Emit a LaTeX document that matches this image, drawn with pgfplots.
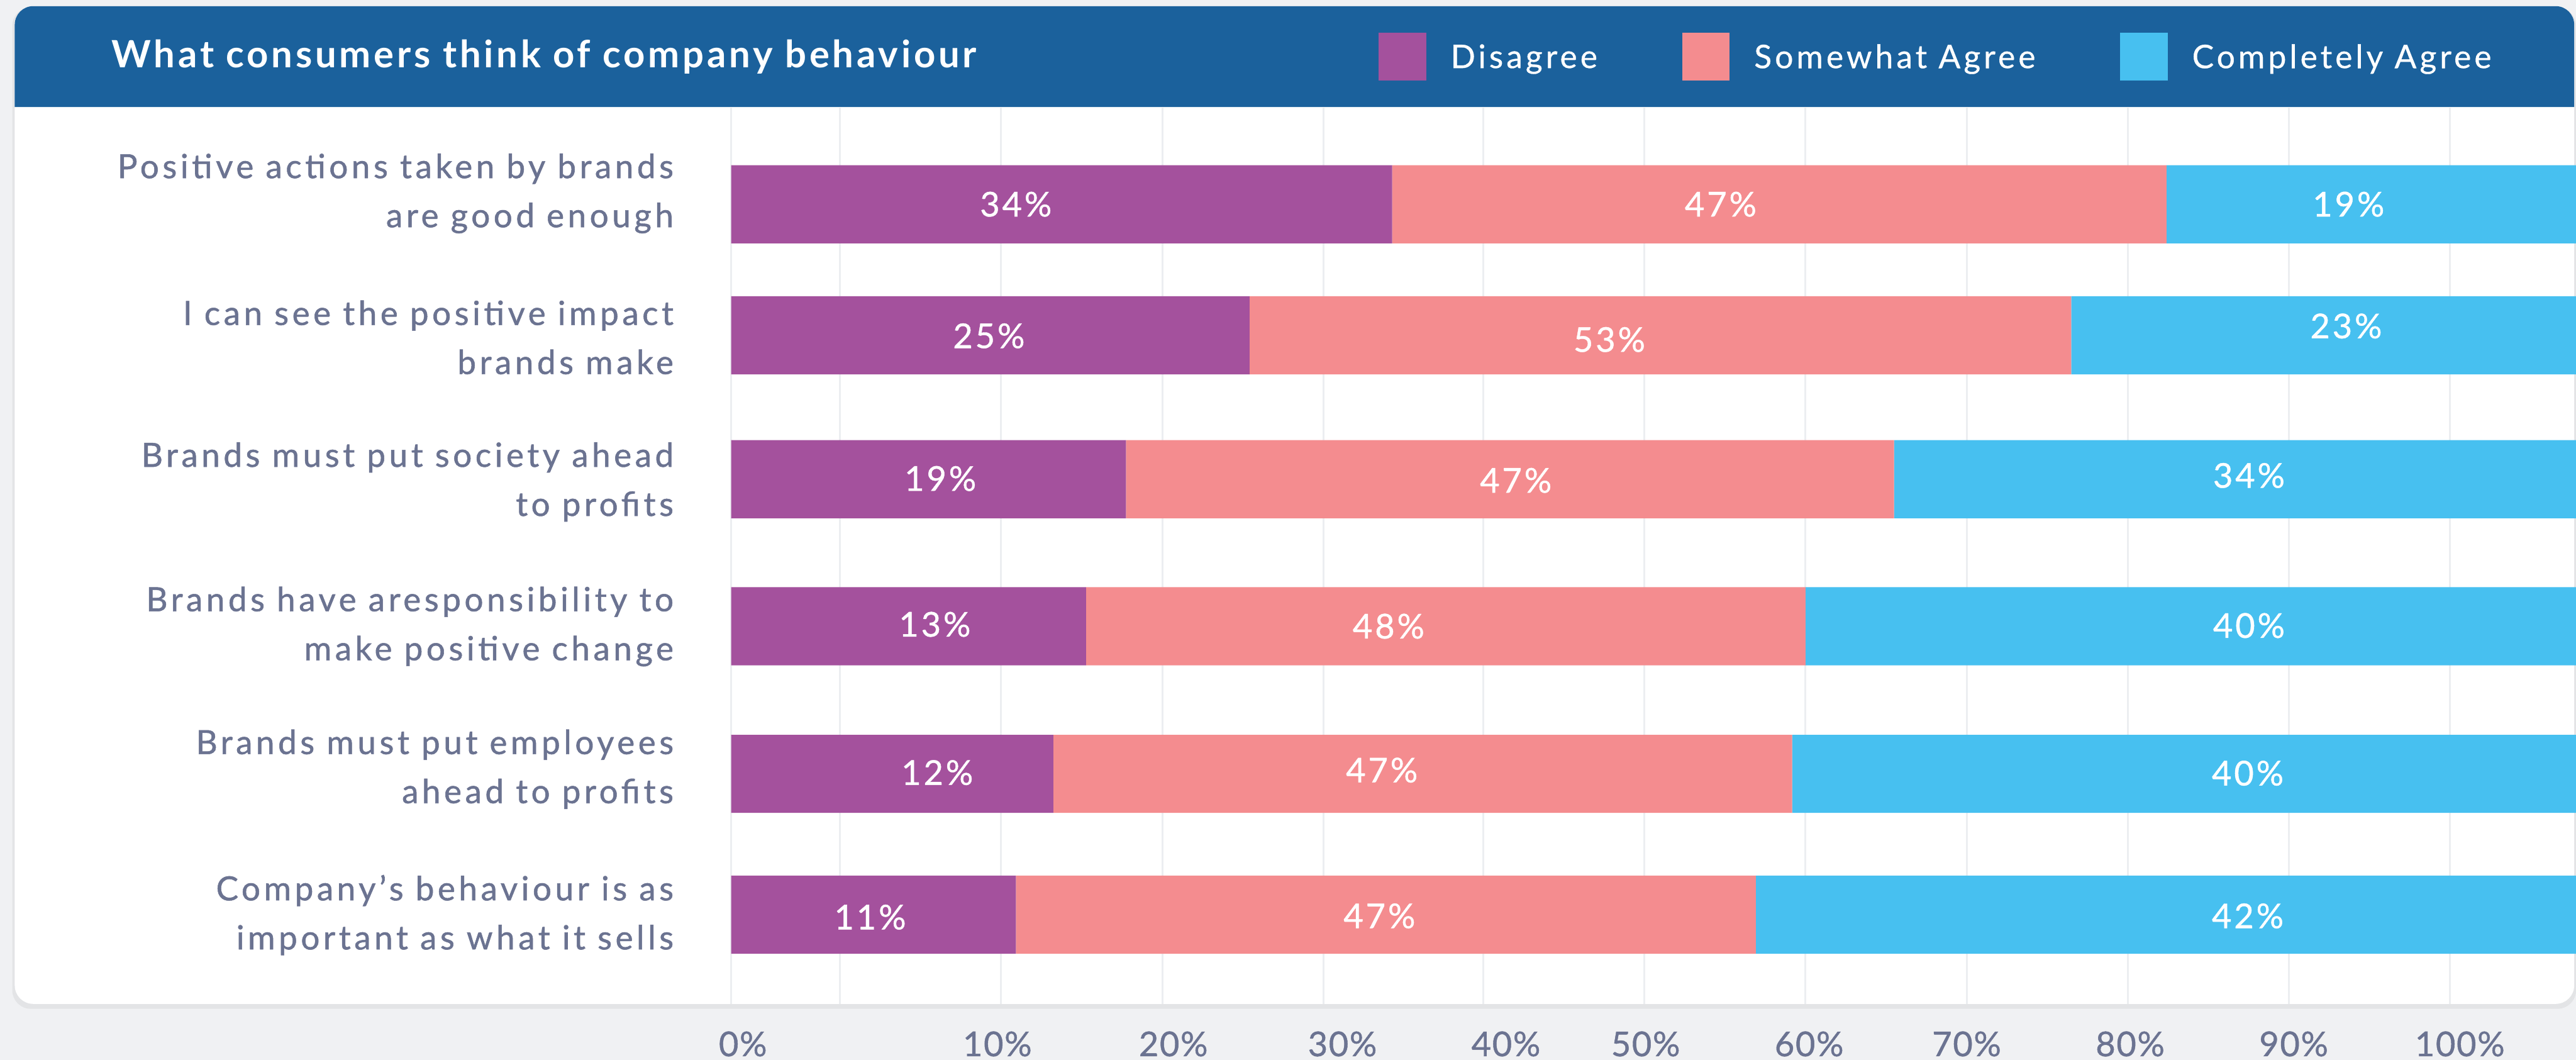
\documentclass[border=0pt]{standalone}
\usepackage{fontspec}
\setmainfont{Lato}
\newfontfamily\titlefont[LetterSpace=8]{Lato}
\newfontfamily\rowfont[LetterSpace=10.5,FakeBold=1]{Lato}
\newfontfamily\legfont[LetterSpace=9.8,FakeBold=0.6]{Lato}
\newfontfamily\tickfont[LetterSpace=3,FakeBold=0.8]{Lato}
\newfontfamily\barfont[LetterSpace=7,FakeBold=0.8]{Lato}
\usepackage{pgfplots}
\usepackage{pgfplotstable}
\pgfplotsset{compat=1.18}
\definecolor{dis}{RGB}{164,81,157}
\definecolor{som}{RGB}{244,140,143}
\definecolor{com}{RGB}{71,192,240}
\definecolor{hdr}{RGB}{27,97,156}
\definecolor{lbl}{RGB}{107,115,145}
\definecolor{grd}{RGB}{236,238,241}
\definecolor{bgc}{RGB}{240,241,243}

% bar segments (visual lengths, axis units: 0 = bar start, 100 = "100%" tick)
\pgfplotstableread{
y     dis    som    com
332   38.24  44.79  25
545   29.99  47.53  30
779   22.84  44.43  40
1018  20.53  41.62  46
1258  18.64  42.73  46
1487  16.47  42.80  48
}\bars

\begin{document}
\begin{tikzpicture}[x=1cm,y=1cm]
\path[use as bounding box] (0,0) rectangle (41.89,-17.23);
\fill[bgc] (0,0) rectangle (41.89,-17.23);
\fill[black,opacity=0.05,rounded corners=0.3cm] (0.20,-0.12) rectangle (41.89,-16.40);
\fill[white,rounded corners=0.3cm] (0.24,-0.10) rectangle (41.86,-16.32);
\fill[hdr] (0.24,-1.74) {[rounded corners=0.3cm] -- (0.24,-0.10) -- (41.86,-0.10)} -- (41.86,-1.74) -- cycle;
\node[anchor=base west,inner sep=0pt,text=white,font=\titlefont\fontsize{17.4}{20}\selectfont\bfseries] at (1.81,-1.10) {What consumers think of company behaviour};

\begin{axis}[
  at={(11.89cm,-1.74cm)}, anchor=north west,
  scale only axis, width=30cm, height=14.58cm,
  xmin=0, xmax=106.72, ymin=174, ymax=1632, y dir=reverse,
  xbar stacked, bar width=127,
  axis line style={draw=none}, major tick length=0pt,
  /pgf/number format/assume math mode=true,
  xtick={0.68,15.40,25.58,35.36,44.82,52.90,62.36,71.47,80.93,90.39,100},
  xticklabels={0\%,10\%,20\%,30\%,40\%,50\%,60\%,70\%,80\%,90\%,100\%},
  xticklabel style={anchor=base, yshift=-0.85cm, text=lbl, font=\tickfont\fontsize{15.8}{18}\selectfont},
  extra x ticks={0,6.30,15.62,24.94,34.26,43.51,52.83,62.15,71.47,80.79,90.11,99.43},
  extra x tick labels={},
  extra x tick style={grid=major, major grid style={draw=grd, line width=0.03cm}},
  ytick={314.5,548.5,783.5,1018.5,1250.5,1487.5},
  yticklabels={{Positive actions taken by brands\\are good enough},
               {I can see the positive impact\\brands make},
               {Brands must put society ahead\\to profits},
               {Brands have aresponsibility to\\make positive change},
               {Brands must put employees\\ahead to profits},
               {Company’s behaviour is as\\important as what it sells}},
  yticklabel style={align=right, anchor=east, inner sep=0pt, xshift=-0.93cm, text=lbl,
    font=\rowfont\fontsize{15.4}{22.7}\selectfont},
  legend columns=3,
  legend style={draw=none, fill=none, inner sep=0pt, outer sep=0pt,
    at={(axis cs:37.46,92)}, anchor=west, text=white,
    font=\legfont\fontsize{15}{18}\selectfont,
    nodes={inner sep=0pt},
    /tikz/every odd column/.append style={column sep=0.40cm},
    /tikz/every even column/.append style={column sep=1.38cm}},
  legend image code/.code={\fill[#1] (0cm,-0.37cm) rectangle (0.77cm,0.41cm);},
]
\addplot[fill=dis, draw=none] table[x=dis, y=y] {\bars};
\addlegendentry{Disagree}
\addplot[fill=som, draw=none] table[x=som, y=y] {\bars};
\addlegendentry{Somewhat Agree}
\addplot[fill=com, draw=none] table[x=com, y=y] {\bars};
\addlegendentry{Completely Agree}
\end{axis}

\begin{axis}[
  at={(11.89cm,-1.74cm)}, anchor=north west,
  scale only axis, width=30cm, height=14.58cm,
  xmin=0, xmax=106.72, ymin=174, ymax=1632, y dir=reverse,
  hide axis,
]
\addplot[draw=none, mark=none, nodes near coords, point meta=explicit symbolic,
  nodes near coords style={anchor=center, text=white, font=\barfont\fontsize{15.8}{18}\selectfont}]
  coordinates {
  (16.47,332)[34\%] (57.24,332)[47\%] (93.56,332)[19\%]
  (14.91,546)[25\%] (50.80,552)[53\%] (93.42,530)[23\%]
  (12.10,778)[19\%] (45.39,781)[47\%] (87.80,773)[34\%]
  (11.78,1015)[13\%] (38.03,1018)[48\%] (87.80,1017)[40\%]
  (11.92,1256)[12\%] (37.64,1252)[47\%] (87.73,1257)[40\%]
  (8.04,1491)[11\%] (37.50,1489)[47\%] (87.73,1489)[42\%]
  };
\end{axis}
\end{tikzpicture}
\end{document}
